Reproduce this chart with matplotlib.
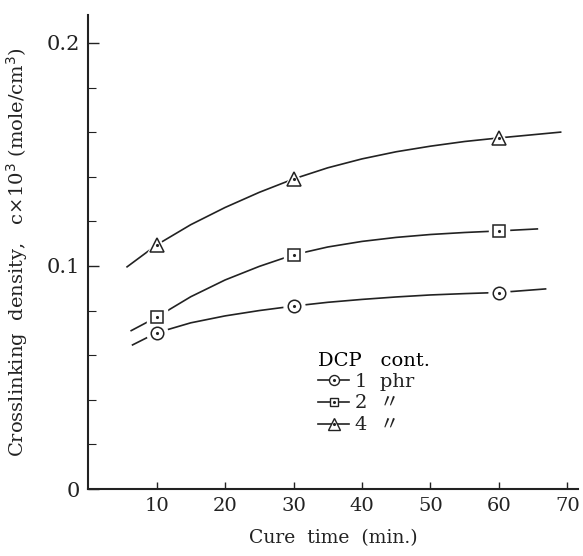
import matplotlib
matplotlib.use("Agg")
import matplotlib.pyplot as plt

plt.rcParams['font.family'] = ['DejaVu Serif', 'Noto Sans CJK JP']

# measured points (cure time, crosslinking density)
cure_time = [10, 30, 60]
dens_1phr = [0.070, 0.082, 0.088]
dens_2phr = [0.077, 0.105, 0.1157]
dens_4phr = [0.1094, 0.139, 0.1574]

# hand-drawn fit curves
curve_1_x = [6.5, 10, 15, 20, 25, 30, 35, 40, 45, 50, 55, 60, 66.8]
curve_1_y = [0.0646, 0.070, 0.0745, 0.0776, 0.0800, 0.0820, 0.0837, 0.0850, 0.0861, 0.0870, 0.0876, 0.0881, 0.0897]
curve_2_x = [6.3, 10, 15, 20, 25, 30, 35, 40, 45, 50, 55, 60, 65.6]
curve_2_y = [0.071, 0.077, 0.0862, 0.0937, 0.0998, 0.1050, 0.1085, 0.1110, 0.1128, 0.1141, 0.1150, 0.1157, 0.1166]
curve_4_x = [5.7, 10, 15, 20, 25, 30, 35, 40, 45, 50, 55, 60, 69]
curve_4_y = [0.0996, 0.1094, 0.1185, 0.1262, 0.1330, 0.1390, 0.1440, 0.1480, 0.1512, 0.1537, 0.1558, 0.1574, 0.1600]

labels = ['1  phr', '2  〃', '4  〃']

fig = plt.figure(figsize=(5.83, 5.56), dpi=100)
ax = fig.add_axes([0.151, 0.1205, 0.84, 0.8525])

series = [
    (curve_1_x, curve_1_y, dens_1phr, 'o', 9),
    (curve_2_x, curve_2_y, dens_2phr, 's', 8),
    (curve_4_x, curve_4_y, dens_4phr, '^', 10),
]

handles = []
for cx, cy, dy, mk, ms in series:
    ax.plot(cx, cy, color='#222222', lw=1.2, zorder=2)
    ax.plot(cure_time, dy, ls='none', marker=mk, ms=ms + 6, mfc='white', mec='white', zorder=3)
    ax.plot(cure_time, dy, ls='none', marker=mk, ms=ms, mfc='white', mec='#222222', mew=1.1, zorder=4)
    d, = ax.plot(cure_time, dy, ls='none', marker='.', ms=2.5, color='#222222', zorder=5)
    h, = plt.plot([], [], color='#222222', lw=1.2, marker=mk, ms=ms * 0.8, mfc='white', mec='#222222', mew=1.0)
    handles.append((h, d))

ax.set_xlim(0, 71.5)
ax.set_ylim(0, 0.2125)
ax.set_xticks([10, 20, 30, 40, 50, 60, 70])
ax.set_yticks([0, 0.1, 0.2])
ax.set_yticklabels(['0', '0.1', '0.2'])
ax.set_yticks([0.02, 0.04, 0.06, 0.08, 0.12, 0.14, 0.16, 0.18], minor=True)

for s in ['top', 'right']:
    ax.spines[s].set_visible(False)
for s in ['left', 'bottom']:
    ax.spines[s].set_linewidth(1.5)
    ax.spines[s].set_color('#222222')

ax.tick_params(axis='y', which='major', direction='in', length=8, width=1.0, labelsize=15, pad=6, colors='#222222')
ax.tick_params(axis='y', which='minor', direction='in', length=6, width=0.8, colors='#222222')
ax.tick_params(axis='x', which='major', direction='in', length=5, width=1.0, labelsize=14, pad=6, colors='#222222')

ax.set_xlabel('Cure  time  (min.)', fontsize=13.5, labelpad=10, color='#222222')
ax.set_ylabel('Crosslinking  density,   c×10$^3$ (mole/cm$^3$)', fontsize=14, labelpad=12, color='#222222')

leg = ax.legend(handles, labels, loc='upper left', bbox_to_anchor=(0.45, 0.31),
                frameon=False, title='DCP   cont.', fontsize=14, title_fontsize=14,
                handlelength=1.6, handletextpad=0.3, labelspacing=0.2,
                borderpad=0, alignment='left')
leg._legend_box.sep = 2
for t in leg.get_texts():
    t.set_color('#222222')

fig.savefig('out.png', dpi=100)
